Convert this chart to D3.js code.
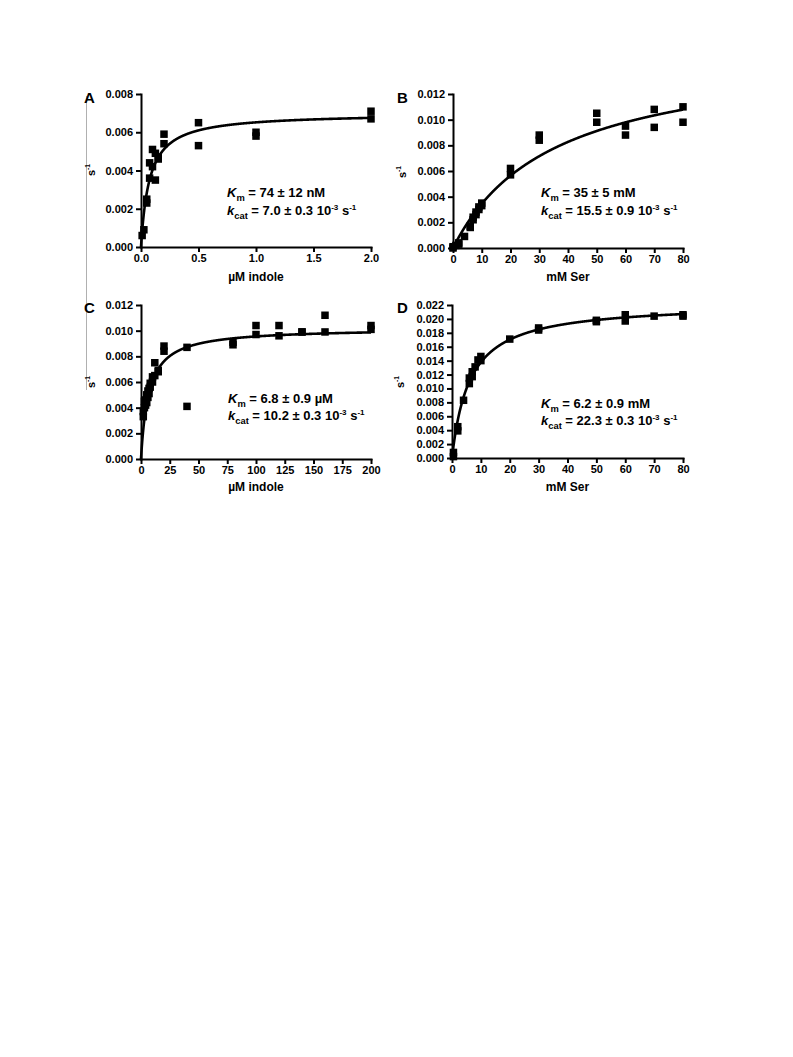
<!DOCTYPE html>
<html><head><meta charset="utf-8">
<script src="https://cdn.jsdelivr.net/npm/d3@7"></script>
<style>body{margin:0;background:#fff}</style>
</head><body>
<svg id="c" width="793" height="1057"></svg>
<script>
// ---------- DATA ----------
const aX = [0.01,0.025,0.05,0.05,0.075,0.075,0.1,0.1,0.125,0.125,0.15,0.15,0.2,0.2,0.5,0.5,1,1,2,2];
const aY = [0.0006,0.0009,0.0023,0.0025,0.0036,0.0044,0.0051,0.0042,0.0049,0.0035,0.0046,0.0047,0.0059,0.0054,0.0065,0.0053,0.0060,0.0058,0.0071,0.0067];

const bX = [0,0,1,2,2,4,6,6,7,7,8,8,9,9,10,10,20,20,30,30,50,50,60,60,70,70,80,80];
const bY = [0,0.0001,0.0002,0.0003,0.0004,0.0009,0.0016,0.0017,0.0022,0.0024,0.0026,0.0028,0.0030,0.0032,0.0033,0.0035,0.0062,0.0057,0.0088,0.0084,0.0105,0.0098,0.0095,0.0088,0.0108,0.0094,0.0110,0.0098];

const cX = [2,2,3,3,4,4,5,5,6,6,7,7,8,8,10,10,12,12,15,15,20,20,40,40,80,80,100,100,120,120,140,140,160,160,200,200];
const cY = [0.0033,0.0037,0.0040,0.0045,0.0042,0.0046,0.0044,0.0050,0.0048,0.0053,0.0051,0.0055,0.0056,0.0059,0.0060,0.0064,0.0075,0.0065,0.0068,0.0069,0.0088,0.0084,0.0087,0.0041,0.0091,0.0089,0.0104,0.0097,0.0104,0.0096,0.0099,0.0099,0.0112,0.0099,0.0104,0.0101];

const dX = [0.5,0.5,2,2,4,6,6,7,7,8,9,10,10,20,30,30,50,50,60,60,70,80,80];
const dY = [0.0002,0.0008,0.0045,0.0039,0.0083,0.0115,0.0107,0.0124,0.0117,0.0131,0.0141,0.0146,0.0140,0.0171,0.0187,0.0184,0.0198,0.0196,0.0206,0.0197,0.0204,0.0206,0.0204];

// fitted Michaelis-Menten parameters (from the annotations)
const kmValues   = [0.074, 35, 6.8, 6.2];
const kcatValues = [0.0070, 0.0155, 0.0102, 0.0223];

// tick labels
const aXTicks = [0, 0.5, 1.0, 1.5, 2.0];
const bXTicks = [0,10,20,30,40,50,60,70,80];
const cXTicks = [0,25,50,75,100,125,150,175,200];
const dXTicks = [0,10,20,30,40,50,60,70,80];
const yTicks008 = [0,0.002,0.004,0.006,0.008];
const yTicks012 = [0,0.002,0.004,0.006,0.008,0.010,0.012];
const yTicks022 = [0,0.002,0.004,0.006,0.008,0.010,0.012,0.014,0.016,0.018,0.020,0.022];

const letters = ["A","B","C","D"];
const xTitles = ["µM indole","mM Ser","µM indole","mM Ser"];
const kmTexts = [" = 74 ± 12 nM"," = 35 ± 5 mM"," = 6.8 ± 0.9 µM"," = 6.2 ± 0.9 mM"];
const kcatTexts = [" = 7.0 ± 0.3 10"," = 15.5 ± 0.9 10"," = 10.2 ± 0.3 10"," = 22.3 ± 0.3 10"];

// ---------- LAYOUT ----------
const panels = [
  {xs:aX, ys:aY, xd:[0,2],  yd:[0,0.008], xt:aXTicks, yt:yTicks008, xf:d3.format(".1f"),
   px:[141,371], py:[247,94], letter:[84,103], ylab:[95,170], xlab:281, anno:[227,197,215]},
  {xs:bX, ys:bY, xd:[0,80], yd:[0,0.012], xt:bXTicks, yt:yTicks012, xf:d3.format("d"),
   px:[453,683], py:[248,94], letter:[397,103], ylab:[406,172], xlab:281, anno:[541,197,215]},
  {xs:cX, ys:cY, xd:[0,200],yd:[0,0.012], xt:cXTicks, yt:yTicks012, xf:d3.format("d"),
   px:[141,371], py:[459,305], letter:[84,313], ylab:[95,382], xlab:491, anno:[228,403,420]},
  {xs:dX, ys:dY, xd:[0,80], yd:[0,0.022], xt:dXTicks, yt:yTicks022, xf:d3.format("d"),
   px:[452,683], py:[458,305], letter:[397,313], ylab:[404,382], xlab:491, anno:[541,408,425]}
];

const FONT = "'Liberation Sans', Arial, Helvetica, sans-serif";
const svg = d3.select("#c");
svg.append("rect").attr("width",793).attr("height",1057).attr("fill","#fff");

// faint scan edge line on the left
svg.append("line").attr("x1",86.5).attr("x2",86.5).attr("y1",96).attr("y2",390)
  .attr("stroke","#b0b0b0").attr("stroke-width",1);

function addRich(t, parts, size){
  parts.forEach(p=>{
    const ts = t.append("tspan").text(p.t);
    if(p.i) ts.attr("font-style","italic");
    if(p.sub){ ts.attr("font-size",size*0.72).attr("dy", size*0.28); }
    if(p.sup){ ts.attr("font-size",size*0.62).attr("dy", -size*0.42); }
    if(p.reset) ts.attr("dy", p.reset*size);
  });
}

panels.forEach((p,i)=>{
  const x = d3.scaleLinear().domain(p.xd).range(p.px);
  const y = d3.scaleLinear().domain(p.yd).range(p.py);
  const g = svg.append("g");

  // x axis
  const xa = g.append("g").attr("transform",`translate(0,${p.py[0]})`)
    .call(d3.axisBottom(x).tickValues(p.xt).tickFormat(p.xf).tickSize(5).tickSizeOuter(0).tickPadding(2));
  // y axis
  const ya = g.append("g").attr("transform",`translate(${p.px[0]},0)`)
    .call(d3.axisLeft(y).tickValues(p.yt).tickFormat(d3.format(".3f")).tickSize(5).tickSizeOuter(0).tickPadding(3));
  [xa,ya].forEach(a=>{
    a.select(".domain").attr("stroke","#000").attr("stroke-width",2).attr("stroke-linecap","square");
    a.selectAll(".tick line").attr("stroke","#000").attr("stroke-width",2);
    a.selectAll(".tick text").attr("fill","#000").attr("font-family",FONT)
      .attr("font-weight","bold").attr("font-size",11);
  });

  // fitted curve
  const km = kmValues[i], kc = kcatValues[i];
  const curvePts = d3.range(0, 1001).map(k=>{
    const xv = p.xd[1]*Math.pow(k/1000, 2);
    return [xv, kc*xv/(km+xv)];
  });
  g.append("path").datum(curvePts)
    .attr("d", d3.line().x(d=>x(d[0])).y(d=>y(d[1])))
    .attr("fill","none").attr("stroke","#000").attr("stroke-width",2.6);

  // points
  const s = 7.5;
  g.selectAll("rect.pt").data(p.xs.map((v,j)=>[v,p.ys[j]])).join("rect")
    .attr("class","pt")
    .attr("x",d=>x(d[0])-s/2).attr("y",d=>y(d[1])-s/2)
    .attr("width",s).attr("height",s).attr("fill","#000");

  // panel letter
  svg.append("text").attr("x",p.letter[0]).attr("y",p.letter[1])
    .attr("font-family",FONT).attr("font-weight","bold").attr("font-size",15).text(letters[i]);

  // y label s^-1
  const yl = svg.append("text")
    .attr("transform",`translate(${p.ylab[0]},${p.ylab[1]}) rotate(-90)`)
    .attr("text-anchor","middle")
    .attr("font-family",FONT).attr("font-weight","bold").attr("font-size",11);
  addRich(yl,[{t:"s"},{t:"-1",sup:true}],11);

  // x title
  svg.append("text").attr("x",(p.px[0]+p.px[1])/2).attr("y",p.xlab)
    .attr("text-anchor","middle").attr("font-family",FONT).attr("font-weight","bold")
    .attr("font-size",12).text(xTitles[i]);

  // annotation
  const fs = 13;
  const t1 = svg.append("text").attr("x",p.anno[0]).attr("y",p.anno[1])
    .attr("font-family",FONT).attr("font-weight","bold").attr("font-size",fs);
  addRich(t1,[{t:"K",i:true},{t:"m",sub:true},{t:kmTexts[i],reset:-0.28}],fs);
  const t2 = svg.append("text").attr("x",p.anno[0]).attr("y",p.anno[2])
    .attr("font-family",FONT).attr("font-weight","bold").attr("font-size",fs);
  addRich(t2,[{t:"k",i:true},{t:"cat",sub:true},{t:kcatTexts[i],reset:-0.28},
              {t:"-3",sup:true},{t:" s",reset:0.42},{t:"-1",sup:true}],fs);
});
</script>
</body></html>
